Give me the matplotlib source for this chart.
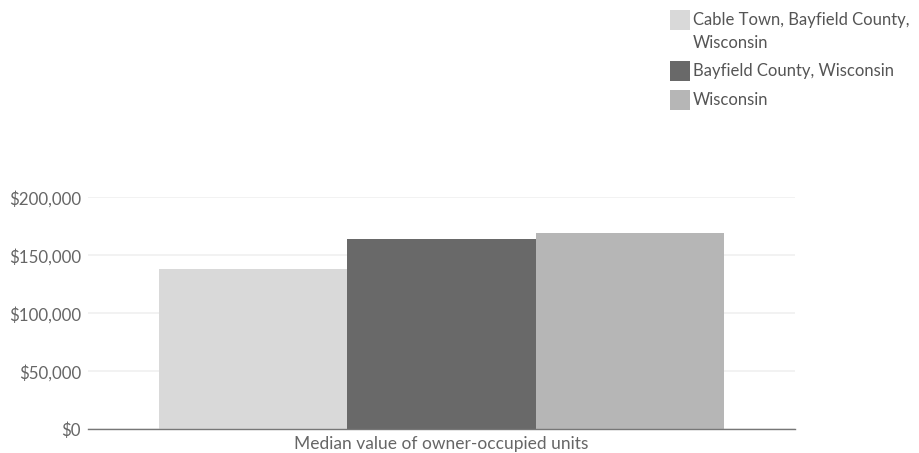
import matplotlib.pyplot as plt
from matplotlib.patches import Rectangle
from matplotlib.ticker import FuncFormatter

# Median value of owner-occupied units
category = 'Median value of owner-occupied units'
places = ['Cable Town, Bayfield County,\nWisconsin', 'Bayfield County, Wisconsin', 'Wisconsin']
values = [138000, 164000, 169500]
colors = ['#d9d9d9', '#696969', '#b6b6b6']
y_ticks = [0, 50000, 100000, 150000, 200000]

plt.rcParams['font.family'] = ['Lato', 'DejaVu Sans']

W, H = 919, 453
fig = plt.figure(figsize=(W / 100, H / 100), dpi=100)
ax = fig.add_axes([88 / W, 1 - 429.3 / H, 707 / W, 232 / H])

width = 0.8 / len(values)
for i, (v, c) in enumerate(zip(values, colors)):
    ax.bar((i - 1) * width, v, width=width, color=c, edgecolor='none', zorder=2)

ax.set_xlim(-0.5, 0.5)
ax.set_ylim(0, 200000)
ax.set_yticks(y_ticks)
ax.yaxis.set_major_formatter(FuncFormatter(lambda v, p: f'${v:,.0f}'))
ax.set_xticks([0])
ax.set_xticklabels([category])
ax.tick_params(axis='both', length=0, labelcolor='#666666')
ax.tick_params(axis='y', pad=5, labelsize=12.2)
ax.tick_params(axis='x', pad=5, labelsize=12.5)

ax.grid(axis='y', color='#f0f0f0', linewidth=1.2, zorder=0)
for side in ['top', 'right', 'left']:
    ax.spines[side].set_visible(False)
ax.spines['bottom'].set_color('#777777')
ax.spines['bottom'].set_linewidth(1)

# legend drawn by hand: 20px swatches, labels wrapped onto 23px lines
rows = [20, 71, 100]
for label, c, yc in zip(places, colors, rows):
    fig.patches.append(Rectangle((670 / W, 1 - (yc + 10) / H), 20 / W, 20 / H,
                                 transform=fig.transFigure, facecolor=c, edgecolor='none'))
    for k, line in enumerate(label.split('\n')):
        fig.text(693 / W, 1 - (yc + 23 * k) / H, line, ha='left', va='center',
                 fontsize=12, color='#555555')

fig.savefig('out.png', dpi=100)
